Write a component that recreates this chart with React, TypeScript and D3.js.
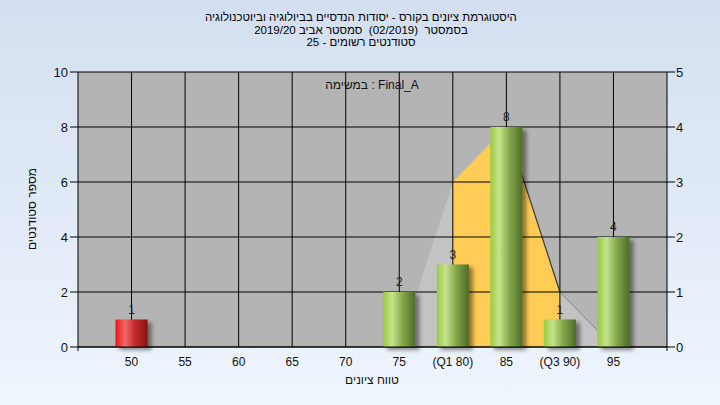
import React from "react";
import * as d3 from "d3";

const categories = [50, 55, 60, 65, 70, 75, 80, 85, 90, 95];
const tickLabels = ["50", "55", "60", "65", "70", "75", "(Q1 80)", "85", "(Q3 90)", "95"];
const counts = [1, 0, 0, 0, 0, 2, 3, 8, 1, 4];
const failFlags = [true, false, false, false, false, false, false, false, false, false];
const curveValues = [0, 0, 0, 0, 0, 0, 3, 4, 1, 0];
const q1 = 80;
const q3 = 90;
const leftTicks = [0, 2, 4, 6, 8, 10];
const rightTicks = [0, 1, 2, 3, 4, 5];
const titleLines = [
  "היסטוגרמת ציונים בקורס - יסודות הנדסיים בביולוגיה וביוטכנולוגיה",
  "בסמסטר  (02/2019)  סמסטר אביב 2019/20",
  "סטודנטים רשומים - 25",
];
const taskLabel = "במשימה : Final_A";
const yTitle = "מספר סטודנטים";
const xTitle = "טווח ציונים";

const W = 720;
const H = 405;
const L = 78, R = 667, T = 72, B = 347;

export default function App() {
  const x = d3.scaleLinear().domain([45, 100]).range([L, R]);
  const yL = d3.scaleLinear().domain([0, 10]).range([B, T]);
  const yR = d3.scaleLinear().domain([0, 5]).range([B, T]);
  const barW = x(48) - x(45);
  const font = "'Liberation Sans', Arial, sans-serif";

  const pts = categories.map((c, i) => ({ c, v: curveValues[i] }));
  const startIdx = pts.findIndex((p, i) => i + 1 < pts.length && pts[i + 1].v > 0);
  const endIdx = pts.length - 1;
  const seg = pts.slice(startIdx, endIdx + 1);
  const area = d3
    .area<{ c: number; v: number }>()
    .x((d) => x(d.c))
    .y0(B)
    .y1((d) => yR(d.v));
  const line = d3
    .line<{ c: number; v: number }>()
    .x((d) => x(d.c))
    .y((d) => yR(d.v));
  const yellowPts = seg.filter((p) => p.c >= q1 && p.c <= q3);
  const peakIdx = d3.maxIndex(seg, (d) => d.v);
  const descDark = seg.slice(peakIdx).filter((p) => p.c <= q3);
  const descLight = seg.filter((p) => p.c >= q3);

  return (
    <svg width={W} height={H} style={{ position: "absolute", left: 0, top: 0 }} fontFamily={font}>
      <defs>
        <linearGradient id="bg" x1="0" y1="0" x2="0" y2="1">
          <stop offset="0" stopColor="#d3dff0" />
          <stop offset="1" stopColor="#eef5fd" />
        </linearGradient>
        <linearGradient id="green" x1="0" y1="0" x2="1" y2="0">
          <stop offset="0" stopColor="#9acb3f" />
          <stop offset="0.28" stopColor="#c6e38c" />
          <stop offset="0.6" stopColor="#83a84a" />
          <stop offset="1" stopColor="#4e6b28" />
        </linearGradient>
        <linearGradient id="red" x1="0" y1="0" x2="1" y2="0">
          <stop offset="0" stopColor="#e8161c" />
          <stop offset="0.3" stopColor="#f26a6a" />
          <stop offset="0.6" stopColor="#c02a2a" />
          <stop offset="1" stopColor="#8a1414" />
        </linearGradient>
        <filter id="shadow" x="-20%" y="-20%" width="160%" height="160%">
          <feGaussianBlur in="SourceAlpha" stdDeviation="2" />
          <feOffset dx="4" dy="3" result="b" />
          <feComponentTransfer>
            <feFuncA type="linear" slope="0.45" />
          </feComponentTransfer>
          <feMerge>
            <feMergeNode />
            <feMergeNode in="SourceGraphic" />
          </feMerge>
        </filter>
        <clipPath id="plot">
          <rect x={L} y={T} width={R - L} height={B - T} />
        </clipPath>
      </defs>
      <rect x={0} y={0} width={W} height={H} fill="url(#bg)" />

      {titleLines.map((t, i) => (
        <text
          key={i}
          x={361}
          y={21 + i * 12.5}
          textAnchor="middle"
          fontSize={11.5}
          fill="#000"
          direction="rtl"
          style={{ whiteSpace: "pre" }}
        >
          {t}
        </text>
      ))}

      <rect x={L} y={T} width={R - L} height={B - T} fill="#b4b4b4" />

      <g clipPath="url(#plot)">
        <path d={area(seg) || ""} fill="#c3c3c3" />
        <path d={area(yellowPts) || ""} fill="#ffcc55" />
        <path d={line(descLight) || ""} fill="none" stroke="#8a8a8a" strokeWidth={1} />
        <path d={line(descDark) || ""} fill="none" stroke="#3a3a3a" strokeWidth={1.2} />
      </g>

      {leftTicks.map((t) => (
        <line key={"h" + t} x1={L} x2={R} y1={yL(t)} y2={yL(t)} stroke="#000" />
      ))}
      {categories.map((c) => (
        <line key={"v" + c} x1={x(c)} x2={x(c)} y1={T} y2={B} stroke="#000" />
      ))}

      {categories.map((c, i) =>
        counts[i] > 0 ? (
          <g key={"b" + c}>
            <rect
              x={x(c) - barW / 2}
              y={yL(counts[i])}
              width={barW}
              height={B - yL(counts[i])}
              fill={failFlags[i] ? "url(#red)" : "url(#green)"}
              filter="url(#shadow)"
            />
            <text x={x(c)} y={yL(counts[i]) - 6} textAnchor="middle" fontSize={12} fill="#222">
              {counts[i]}
            </text>
          </g>
        ) : null
      )}

      <line x1={L} x2={L} y1={T} y2={B + 4} stroke="#000" />
      <line x1={R} x2={R} y1={T} y2={B + 4} stroke="#000" />
      <line x1={L} x2={R} y1={B} y2={B} stroke="#000" />

      {leftTicks.map((t) => (
        <g key={"lt" + t}>
          <line x1={L - 8} x2={L} y1={yL(t)} y2={yL(t)} stroke="#000" />
          <text x={L - 10} y={yL(t) + 4.5} textAnchor="end" fontSize={13} fill="#111">
            {t}
          </text>
        </g>
      ))}
      {rightTicks.map((t) => (
        <g key={"rt" + t}>
          <line x1={R} x2={R + 8} y1={yR(t)} y2={yR(t)} stroke="#000" />
          <text x={R + 9} y={yR(t) + 4.5} textAnchor="start" fontSize={13} fill="#111">
            {t}
          </text>
        </g>
      ))}
      {categories.map((c, i) => (
        <text key={"xt" + c} x={x(c)} y={366} textAnchor="middle" fontSize={12} fill="#111">
          {tickLabels[i]}
        </text>
      ))}

      <text x={372} y={89} textAnchor="middle" fontSize={12} fill="#111">
        {taskLabel}
      </text>
      <text x={372} y={384} textAnchor="middle" fontSize={12} fill="#111" direction="rtl">
        {xTitle}
      </text>
      <text
        transform={`translate(36,209) rotate(-90)`}
        textAnchor="middle"
        fontSize={12}
        fill="#111"
        direction="rtl"
      >
        {yTitle}
      </text>
    </svg>
  );
}
